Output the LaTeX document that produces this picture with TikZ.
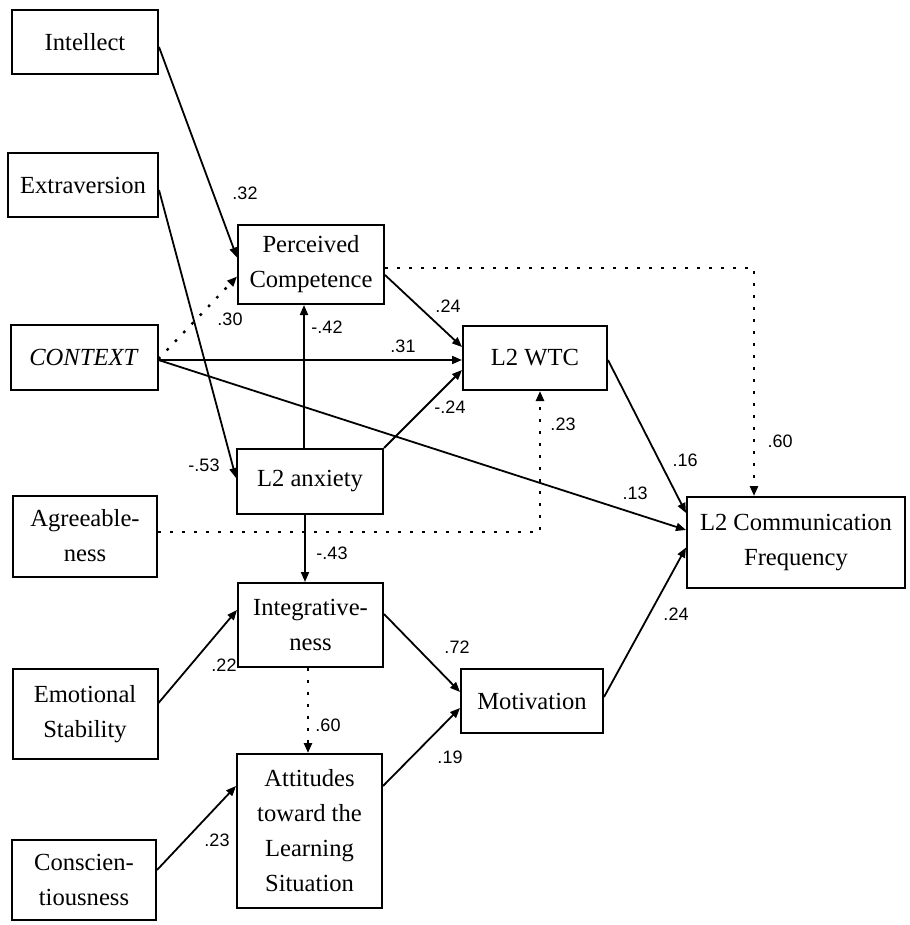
\documentclass[tikz,border=0pt]{standalone}
\usepackage{fontspec}
\setmainfont{Liberation Serif}
\newfontfamily\labelfont{Liberation Sans}
\usetikzlibrary{arrows.meta, calc}
\newcommand{\boxfont}{\fontsize{12.3}{17.5}\selectfont}
\newcommand{\coeffont}{\labelfont\fontsize{9}{10}\selectfont}

\begin{document}
\begin{tikzpicture}[x=0.5pt, y=-0.5pt,
  box/.style={draw, line width=1pt, align=center, font=\boxfont, inner sep=0pt},
  boxsize/.style 2 args={minimum width=#1*0.5pt, minimum height=#2*0.5pt},
  coef/.style={font=\coeffont, inner sep=0pt},
  link/.style={line width=0.9pt, -{Triangle[length=5pt,width=4pt]}},
  dotlink/.style={line width=1.2pt, dash pattern=on 1.3pt off 4.7pt, -{Triangle[length=5pt,width=4pt]}}]
  \useasboundingbox (0,0) rectangle (909,925);
  % left column
  \node[box, boxsize={146}{64}] (intellect) at (85,42) {Intellect};
  \node[box, boxsize={150}{64}] (extra) at (83,185) {Extraversion};
  \node[box, boxsize={147}{65}] (context) at (84,357) {\textit{CONTEXT}};
  \node[box, boxsize={144}{81}] (agree) at (85,536) {Agreeable-\\ness};
  \node[box, boxsize={145}{90}] (emot) at (85,714) {Emotional\\Stability};
  \node[box, boxsize={144}{80}] (consc) at (84,880) {Conscien-\\tiousness};
  % middle column
  \node[box, boxsize={146}{79}] (pc) at (311,264.5) {Perceived\\Competence};
  \node[box, boxsize={146}{65}] (anx) at (310,481.5) {L2 anxiety};
  \node[box, boxsize={145}{84}] (integ) at (310.5,625) {Integrative-\\ness};
  \node[box, boxsize={145}{154}] (att) at (309.5,831) {Attitudes\\toward the\\Learning\\Situation};
  % right part
  \node[box, boxsize={144}{64}] (wtc) at (535,358) {L2 WTC};
  \node[box, boxsize={142}{64}] (motiv) at (532,701) {Motivation};
  \node[box, boxsize={218}{91}] (freq) at (796,542.5) {L2 Communication\\Frequency};

  % solid paths
  \draw[link] ($(intellect.east)+(0,5)$) -- ($(pc.west)+(0,-7)$);
  \draw[link] ($(extra.east)+(0,5)$) -- ($(anx.west)+(0,-3.5)$);
  \draw[link] ($(context.east)+(0,3)$) -- ($(wtc.west)+(0,2)$);
  \draw[link] ($(context.east)+(0,3)$) -- ($(freq.west)+(0,-12.5)$);
  \draw[link] ($(pc.east)+(0,10.5)$) -- ($(wtc.west)+(0,-11)$);
  \draw[link] ($(anx.north)+(-6,0)$) -- ($(pc.south)+(-7,0)$);
  \draw[link] (anx.north east) -- ($(wtc.west)+(0,12)$);
  \draw[link] ($(wtc.east)+(0,2)$) -- ($(freq.west)+(0,-29.5)$);
  \draw[link] ($(anx.south)+(-5,0)$) -- ($(integ.north)+(-5.5,0)$);
  \draw[link] ($(emot.east)+(0,-11)$) -- ($(integ.west)+(0,-15)$);
  \draw[link] ($(consc.east)+(0,-10)$) -- ($(att.west)+(0,-45)$);
  \draw[link] ($(integ.east)+(0,-11)$) -- ($(motiv.west)+(0,-9)$);
  \draw[link] ($(att.east)+(0,-45)$) -- ($(motiv.west)+(0,7)$);
  \draw[link] ($(motiv.east)+(0,-4)$) -- ($(freq.west)+(0,5)$);
  % dotted paths
  \draw[dotlink] ($(context.east)+(0,2)$) -- ($(pc.west)+(0,12)$);
  \draw[dotlink] ($(agree.east)+(0,-4)$) -| ($(wtc.south)+(5,0)$);
  \draw[dotlink] ($(pc.east)+(0,3.5)$) -| ($(freq.north)+(-42,0)$);
  \draw[dotlink] ($(integ.south)+(-2.5,0)$) -- ($(att.north)+(-1.5,0)$);

  % coefficients
  \node[coef] (c-int-pc) at (245,193) {.32};
  \node[coef] (c-con-pc) at (230,319) {.30};
  \node[coef] (c-ext-anx) at (204,465) {-.53};
  \node[coef] (c-anx-pc) at (327,327) {-.42};
  \node[coef] (c-con-wtc) at (403,346) {.31};
  \node[coef] (c-pc-wtc) at (448,306) {.24};
  \node[coef] (c-anx-wtc) at (450,407) {-.24};
  \node[coef] (c-agr-wtc) at (563,424) {.23};
  \node[coef] (c-pc-freq) at (780,441) {.60};
  \node[coef] (c-wtc-freq) at (685,460) {.16};
  \node[coef] (c-con-freq) at (635,493) {.13};
  \node[coef] (c-anx-int) at (332,553) {-.43};
  \node[coef] (c-emo-int) at (224,665) {.22};
  \node[coef] (c-int-att) at (328,725) {.60};
  \node[coef] (c-cns-att) at (217,840) {.23};
  \node[coef] (c-int-mot) at (457,647) {.72};
  \node[coef] (c-att-mot) at (450,757) {.19};
  \node[coef] (c-mot-freq) at (676,614) {.24};
\end{tikzpicture}
\end{document}
